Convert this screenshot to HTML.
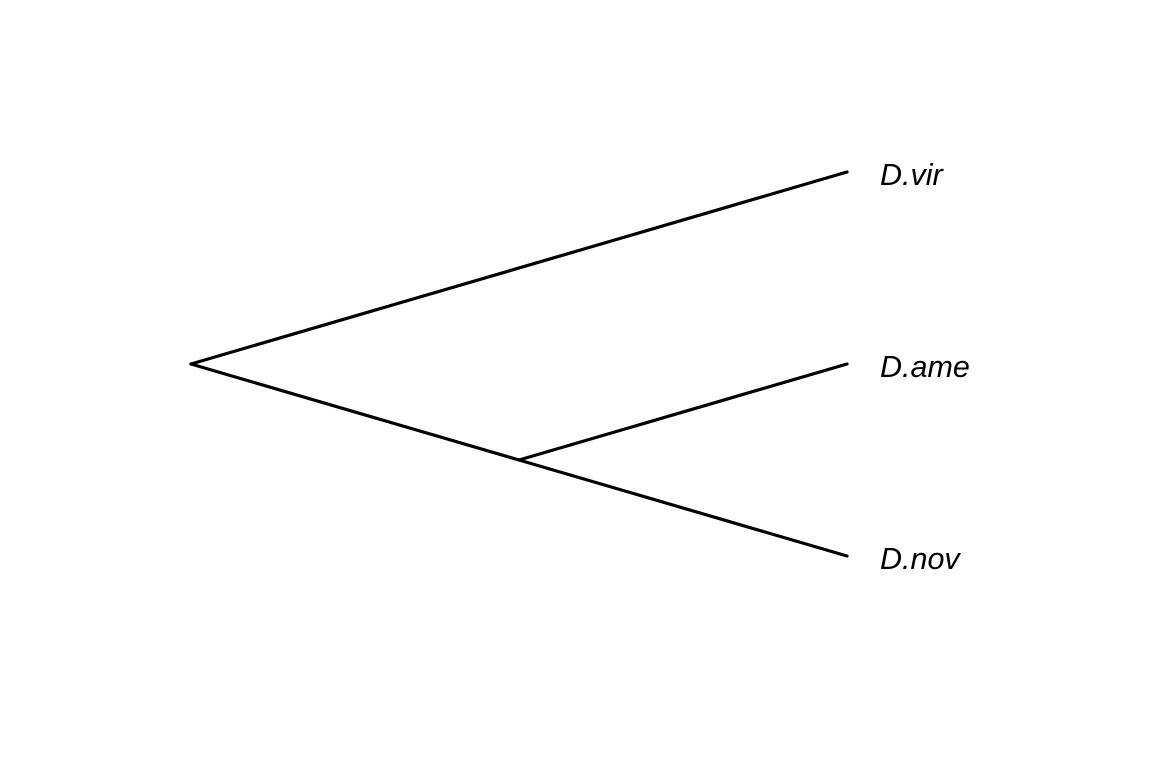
<!DOCTYPE html>
<html><head><meta charset="utf-8"><style>html,body{margin:0;padding:0;background:#fff}</style></head>
<body>
<svg width="1152" height="768" xmlns="http://www.w3.org/2000/svg">
<g stroke="#000" stroke-width="3.2" stroke-linecap="round" fill="none">
<line x1="191" y1="364" x2="847" y2="172"/>
<line x1="191" y1="364" x2="519" y2="460"/>
<line x1="519" y1="460" x2="847" y2="364"/>
<line x1="519" y1="460" x2="847" y2="556"/>
</g>
<g font-family="Liberation Sans, sans-serif" font-style="italic" font-size="30.5" fill="#000">
<text x="880" y="185">D.vir</text>
<text x="880" y="377">D.ame</text>
<text x="880" y="569">D.nov</text>
</g>
</svg>
</body></html>
